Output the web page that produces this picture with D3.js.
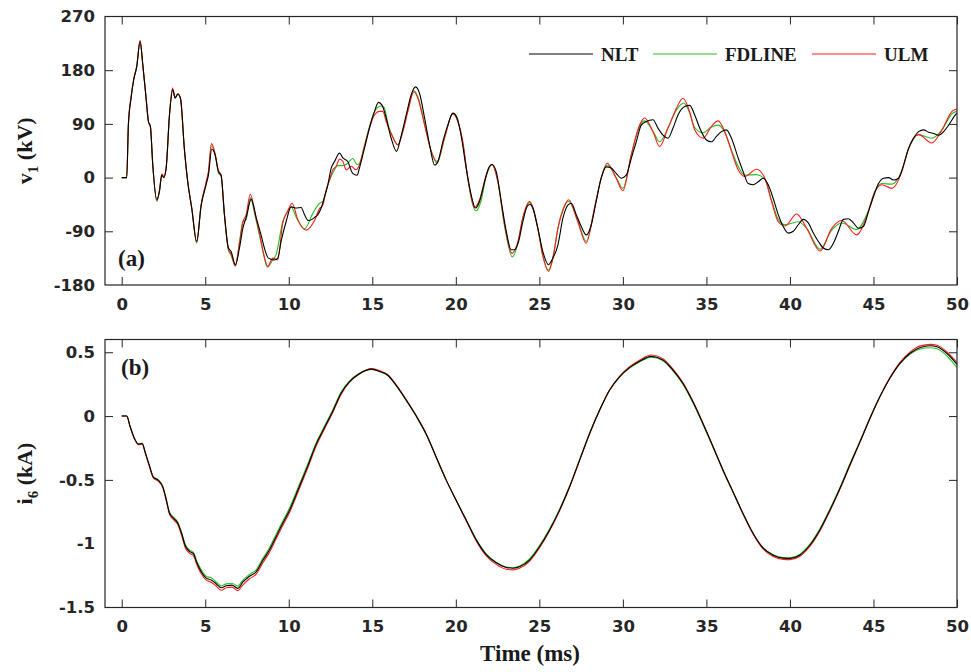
<!DOCTYPE html>
<html>
<head>
<meta charset="utf-8">
<script src="https://cdn.jsdelivr.net/npm/d3@7"></script>
<style>
  body { margin: 0; background: #fff; }
  .tick text { font-family: "DejaVu Sans", Arial, sans-serif; font-weight: bold; font-size: 16.5px; fill: #262626; }
  .tick line { stroke: #262626; }
  .serif { font-family: "Liberation Serif", "Times New Roman", serif; font-weight: bold; fill: #1a1a1a; }
</style>
</head>
<body>
<svg id="chart" width="971" height="672"></svg>
<script>
// tick labels
const timeTicks = [0, 5, 10, 15, 20, 25, 30, 35, 40, 45, 50];
const v1Ticks = [-180, -90, 0, 90, 180, 270];
const i6Ticks = [-1.5, -1, -0.5, 0, 0.5];
const seriesNames = ["NLT", "FDLINE", "ULM"];

// (a) v1 in kV, [time ms, value]
const v1NLT = [[0,0],[0.3,0],[0.4,88],[0.56,133],[0.72,164],[0.9,186],[1.1,228],[1.26,190],[1.46,133],[1.6,94],[1.72,85],[1.86,21],[2.1,-37],[2.26,-23],[2.4,4],[2.52,0],[2.66,16],[2.86,105],[3.06,147],[3.2,133],[3.36,140],[3.52,133],[3.75,49],[3.95,-7],[4.19,-51],[4.49,-107],[4.75,-48],[5.05,-12],[5.19,4],[5.39,48],[5.59,38],[5.79,10],[5.95,4],[6.15,-62],[6.39,-118],[6.55,-124],[6.81,-146],[7.05,-118],[7.25,-85],[7.45,-67],[7.75,-36],[8.05,-67],[8.34,-96],[8.54,-118],[8.78,-135],[9.14,-138],[9.34,-135],[9.54,-107],[9.84,-74],[10.14,-49],[10.44,-51],[10.74,-50],[10.94,-62],[11.18,-72],[11.54,-67],[11.74,-62],[11.94,-51],[12.14,-32],[12.34,-12],[12.54,16],[12.74,27],[13.04,41],[13.24,33],[13.53,27],[13.83,7],[14.09,4],[14.23,16],[14.53,49],[14.83,83],[15.13,111],[15.37,126],[15.59,121],[15.83,100],[16.13,66],[16.45,44],[16.73,70],[17.03,105],[17.33,139],[17.59,152],[17.83,141],[18.13,100],[18.43,55],[18.73,21],[18.93,27],[19.22,60],[19.52,88],[19.82,108],[20.08,100],[20.32,70],[20.62,16],[20.92,-29],[21.18,-51],[21.42,-40],[21.72,-7],[21.96,16],[22.16,22],[22.42,10],[22.72,-40],[23.02,-90],[23.31,-121],[23.51,-121],[23.76,-107],[24.01,-74],[24.3,-47],[24.45,-45],[24.61,-51],[24.91,-85],[25.21,-124],[25.55,-146],[25.81,-135],[26.11,-113],[26.41,-68],[26.71,-46],[26.91,-43],[27.21,-62],[27.51,-82],[27.81,-96],[28.11,-79],[28.4,-40],[28.7,-1],[29.0,18],[29.3,16],[29.6,7],[29.9,-1],[30.2,4],[30.5,32],[30.8,60],[31.1,88],[31.4,94],[31.8,97],[32.1,83],[32.4,71],[32.7,66],[33.0,83],[33.3,105],[33.7,119],[34.0,121],[34.3,105],[34.6,83],[35.0,63],[35.3,60],[35.6,69],[35.9,77],[36.2,80],[36.5,66],[36.9,33],[37.2,10],[37.5,-10],[37.8,-12],[38.1,-7],[38.4,-1],[38.7,-12],[39.0,-35],[39.3,-62],[39.6,-82],[39.9,-93],[40.2,-90],[40.5,-79],[40.8,-70],[41.1,-76],[41.4,-93],[41.7,-107],[42.0,-118],[42.3,-121],[42.6,-110],[42.9,-90],[43.2,-70],[43.5,-69],[43.8,-76],[44.1,-85],[44.4,-82],[44.7,-57],[45.0,-32],[45.3,-10],[45.6,-1],[45.9,0],[46.2,-4],[46.5,-1],[46.8,21],[47.1,49],[47.4,66],[47.7,77],[48.0,80],[48.3,76],[48.6,74],[48.9,71],[49.2,77],[49.5,88],[49.9,105],[50,108]];

const v1FD = [[0,0],[0.3,0],[0.4,89],[0.56,134],[0.72,165],[0.9,186],[1.1,229],[1.26,190],[1.46,133],[1.6,94],[1.72,85],[1.86,21],[2.1,-40],[2.26,-22],[2.4,5],[2.52,1],[2.66,16],[2.86,105],[3.04,148],[3.2,134],[3.36,140],[3.52,132],[3.75,48],[3.95,-7],[4.19,-51],[4.49,-110],[4.75,-47],[5.05,-10],[5.19,8],[5.37,53],[5.59,39],[5.79,8],[5.95,2],[6.15,-64],[6.39,-122],[6.55,-130],[6.8,-148],[7.05,-108],[7.25,-74],[7.45,-70],[7.7,-34],[8.0,-66],[8.3,-104],[8.5,-130],[8.72,-150],[9.04,-138],[9.24,-129],[9.64,-74],[9.94,-56],[10.14,-49],[10.44,-66],[10.94,-86],[11.44,-60],[11.84,-43],[12.04,-40],[12.34,-12],[12.64,8],[12.94,20],[13.24,20],[13.53,24],[13.83,32],[14.09,22],[14.23,24],[14.53,54],[14.83,86],[15.13,110],[15.5,120],[15.7,118],[15.98,85],[16.23,68],[16.53,55],[16.83,80],[17.13,113],[17.49,146],[17.73,135],[18.13,90],[18.53,44],[18.88,24],[19.32,66],[19.82,107],[20.12,94],[20.42,58],[20.72,-3],[21.2,-56],[21.5,-40],[21.82,2],[22.16,22],[22.52,-8],[22.92,-82],[23.38,-133],[23.72,-110],[24.01,-68],[24.41,-42],[24.91,-85],[25.2,-130],[25.55,-155],[25.85,-128],[26.11,-85],[26.45,-50],[26.75,-40],[27.3,-72],[27.8,-107],[28.3,-52],[28.7,-1],[29.06,21],[29.6,0],[30.0,-18],[30.5,38],[31.0,86],[31.3,95],[31.8,78],[32.2,60],[32.7,83],[33.2,113],[33.65,125],[34.0,108],[34.3,84],[34.8,75],[35.3,85],[35.7,88],[36.1,76],[36.5,46],[36.9,19],[37.3,4],[38.0,5],[38.5,-3],[38.9,-38],[39.3,-70],[39.7,-79],[40.5,-74],[41.0,-85],[41.8,-120],[42.5,-88],[43.1,-76],[44.0,-87],[44.6,-62],[45.1,-22],[45.5,-10],[46.1,-11],[46.7,12],[47.1,48],[47.7,72],[48.5,66],[49.1,80],[49.7,107],[50,111]];

const v1ULM = [[0,0],[0.3,0],[0.4,90],[0.56,135],[0.72,165],[0.9,187],[1.1,230],[1.26,190],[1.46,133],[1.6,94],[1.72,85],[1.86,21],[2.1,-38],[2.26,-21],[2.4,6],[2.52,2],[2.66,16],[2.86,106],[3.04,150],[3.2,134],[3.36,140],[3.52,132],[3.75,48],[3.95,-6],[4.19,-50],[4.49,-108],[4.75,-46],[5.05,-8],[5.19,10],[5.37,57],[5.59,40],[5.79,12],[5.95,4],[6.15,-62],[6.39,-120],[6.55,-128],[6.8,-148],[7.05,-110],[7.25,-75],[7.45,-62],[7.7,-28],[8.0,-62],[8.3,-100],[8.5,-128],[8.74,-149],[9.04,-135],[9.34,-138],[9.64,-76],[9.94,-56],[10.2,-43],[10.54,-70],[11.04,-88],[11.54,-72],[11.84,-52],[12.04,-46],[12.24,-21],[12.44,-4],[12.64,13],[12.84,19],[13.04,31],[13.24,27],[13.44,13],[13.74,19],[14.03,13],[14.23,21],[14.53,52],[14.83,83],[15.13,105],[15.43,111],[15.63,111],[15.83,94],[16.13,74],[16.53,55],[16.83,77],[17.13,111],[17.49,144],[17.73,133],[18.13,88],[18.53,44],[18.88,27],[19.32,66],[19.82,107],[20.12,94],[20.42,60],[20.72,-1],[21.12,-50],[21.42,-37],[21.82,4],[22.16,22],[22.52,-7],[22.92,-79],[23.36,-127],[23.72,-107],[24.01,-67],[24.41,-40],[24.91,-85],[25.2,-130],[25.55,-157],[25.85,-130],[26.11,-85],[26.45,-52],[26.75,-37],[27.3,-74],[27.8,-110],[28.3,-51],[28.7,-1],[29.06,24],[29.6,-1],[30.0,-22],[30.5,38],[31.0,88],[31.3,100],[31.8,77],[32.2,52],[32.7,83],[33.2,116],[33.6,133],[34.0,110],[34.3,80],[34.8,66],[35.3,86],[35.7,95],[36.1,77],[36.5,44],[36.9,13],[37.3,2],[38.0,14],[38.5,-1],[38.9,-40],[39.3,-74],[39.7,-81],[40.4,-61],[41.0,-85],[41.8,-123],[42.5,-85],[43.1,-72],[44.0,-96],[44.6,-65],[45.1,-23],[45.5,-12],[46.1,-18],[46.7,10],[47.1,49],[47.7,72],[48.5,58],[49.1,80],[49.7,111],[50,115]];

// (b) i6 in kA, shared time axis
const iT = [0,0.3,0.5,0.76,1.0,1.22,1.42,1.66,1.9,2.16,
  2.46,2.66,2.86,3.1,3.36,3.56,3.82,4.06,4.3,4.5,
  4.76,5.06,5.36,5.62,5.96,6.26,6.6,6.95,7.26,7.65,
  8.05,8.45,8.84,9.24,9.64,10.04,10.64,11.14,11.64,12.14,
  12.64,13.14,13.64,14.2,14.97,15.43,15.93,16.43,17.03,17.63,
  18.22,18.82,19.42,20.02,20.62,21.22,21.82,22.42,23.01,23.41,
  23.81,24.41,25.01,25.61,26.21,26.81,27.41,28.01,28.61,29.21,
  29.8,30.4,31.0,31.7,32.4,33.0,33.6,34.2,34.8,35.4,
  36.0,36.6,37.2,37.8,38.4,39.0,39.6,40.0,40.6,41.2,
  41.8,42.4,43.0,43.6,44.2,44.8,45.4,46.0,46.6,47.2,
  47.8,48.4,48.8,49.4,50];

const i6NLT = [0,0,-0.08,-0.175,-0.22,-0.215,-0.29,-0.39,-0.48,-0.5,
  -0.555,-0.65,-0.76,-0.8,-0.84,-0.91,-1.02,-1.06,-1.08,-1.15,
  -1.22,-1.27,-1.285,-1.31,-1.345,-1.33,-1.325,-1.35,-1.3,-1.255,
  -1.22,-1.13,-1.05,-0.945,-0.84,-0.74,-0.55,-0.39,-0.22,-0.09,
  0.04,0.18,0.27,0.33,0.368,0.35,0.32,0.24,0.125,0.0,
  -0.14,-0.32,-0.5,-0.66,-0.815,-0.97,-1.085,-1.15,-1.186,-1.192,
  -1.18,-1.128,-1.024,-0.893,-0.737,-0.554,-0.345,-0.136,0.047,0.204,
  0.308,0.38,0.43,0.468,0.44,0.36,0.255,0.11,-0.06,-0.24,
  -0.425,-0.595,-0.765,-0.92,-1.035,-1.09,-1.113,-1.115,-1.088,-1.01,
  -0.89,-0.735,-0.565,-0.38,-0.2,-0.015,0.155,0.3,0.415,0.492,
  0.538,0.551,0.543,0.49,0.405];

const i6FD = [0,0,-0.08,-0.172,-0.218,-0.212,-0.287,-0.385,-0.476,-0.497,
  -0.55,-0.645,-0.752,-0.792,-0.832,-0.9,-1.01,-1.05,-1.07,-1.14,
  -1.205,-1.255,-1.268,-1.295,-1.33,-1.315,-1.31,-1.332,-1.285,-1.24,
  -1.205,-1.115,-1.033,-0.928,-0.823,-0.722,-0.533,-0.375,-0.21,-0.08,
  0.05,0.19,0.275,0.333,0.366,0.35,0.318,0.238,0.122,-0.002,
  -0.142,-0.322,-0.5,-0.658,-0.812,-0.965,-1.08,-1.145,-1.182,-1.188,
  -1.175,-1.12,-1.015,-0.885,-0.73,-0.548,-0.34,-0.132,0.05,0.205,
  0.306,0.376,0.424,0.462,0.434,0.354,0.248,0.102,-0.068,-0.248,
  -0.432,-0.6,-0.768,-0.92,-1.032,-1.086,-1.108,-1.11,-1.082,-1.003,
  -0.882,-0.727,-0.557,-0.372,-0.193,-0.01,0.158,0.3,0.412,0.485,
  0.525,0.535,0.527,0.47,0.38];

const i6ULM = [0,0,-0.082,-0.178,-0.224,-0.22,-0.295,-0.395,-0.486,-0.507,
  -0.563,-0.66,-0.77,-0.812,-0.852,-0.925,-1.035,-1.075,-1.095,-1.165,
  -1.235,-1.285,-1.302,-1.328,-1.365,-1.345,-1.34,-1.368,-1.322,-1.275,
  -1.238,-1.15,-1.068,-0.962,-0.857,-0.757,-0.567,-0.405,-0.235,-0.1,
  0.03,0.172,0.265,0.328,0.372,0.356,0.324,0.245,0.13,0.004,
  -0.136,-0.318,-0.5,-0.662,-0.82,-0.978,-1.095,-1.162,-1.2,-1.205,
  -1.192,-1.138,-1.032,-0.9,-0.742,-0.558,-0.348,-0.138,0.046,0.206,
  0.312,0.387,0.438,0.478,0.45,0.368,0.26,0.114,-0.058,-0.24,
  -0.426,-0.598,-0.77,-0.926,-1.043,-1.1,-1.123,-1.125,-1.098,-1.02,
  -0.898,-0.742,-0.57,-0.385,-0.202,-0.015,0.158,0.305,0.422,0.502,
  0.55,0.562,0.555,0.503,0.42];

const colors = { NLT: "#000000", FDLINE: "#22c022", ULM: "#ff1a1a" };

const svg = d3.select("#chart");
const left = 105, right = 957;

// shared x scale for both panels
let x = d3.scaleLinear().domain([-1, 50]).range([left, right]);

function makePanel(id, top, bottom, yDomain, yTicks, series, label, yTitle, sub, yUnit) {
    let y = d3.scaleLinear().domain(yDomain).range([bottom, top]);
    let g = svg.append("g").attr("id", id);

    g.append("clipPath").attr("id", id + "-clip")
      .append("rect")
        .attr("x", left).attr("y", top)
        .attr("width", right - left).attr("height", bottom - top);

    let line = d3.line()
        .curve(d3.curveMonotoneX)
        .x(d => x(d[0]))
        .y(d => y(d[1]));

    // draw FDLINE and ULM first, NLT on top
    let order = ["FDLINE", "ULM", "NLT"];
    g.append("g").attr("clip-path", `url(#${id}-clip)`)
      .selectAll("path")
      .data(order)
      .join("path")
        .attr("fill", "none")
        .attr("stroke", d => colors[d])
        .attr("stroke-width", 1.1)
        .attr("d", d => line(series[d]));

    // bottom + left axes with labels, top + right with bare ticks
    let fmt = d => String(d);   // plain hyphen, as in the original
    g.append("g")
        .attr("transform", `translate(0,${bottom})`)
        .call(d3.axisBottom(x).tickValues(timeTicks).tickSizeInner(-8).tickSizeOuter(0).tickPadding(13).tickFormat(fmt))
        .call(a => a.select(".domain").remove());
    g.append("g")
        .attr("transform", `translate(0,${top})`)
        .call(d3.axisTop(x).tickValues(timeTicks).tickSizeInner(-8).tickSizeOuter(0).tickFormat(""))
        .call(a => a.select(".domain").remove());
    g.append("g")
        .attr("transform", `translate(${left},0)`)
        .call(d3.axisLeft(y).tickValues(yTicks).tickSizeInner(-8).tickSizeOuter(0).tickPadding(10).tickFormat(fmt))
        .call(a => a.select(".domain").remove());
    g.append("g")
        .attr("transform", `translate(${right},0)`)
        .call(d3.axisRight(y).tickValues(yTicks).tickSizeInner(-8).tickSizeOuter(0).tickFormat(""))
        .call(a => a.select(".domain").remove());

    // tick marks sitting on the box edge are not drawn
    g.selectAll(".tick").filter(d => d === yDomain[0] || d === yDomain[1] || d === -1)
        .select("line").remove();

    g.append("rect")
        .attr("x", left).attr("y", top)
        .attr("width", right - left).attr("height", bottom - top)
        .attr("fill", "none")
        .attr("stroke", "#262626")
        .attr("stroke-width", 1.2);

    // panel tag
    g.append("text")
        .attr("class", "serif")
        .attr("x", label.x).attr("y", label.y)
        .attr("font-size", 23)
        .text(label.text);

    // y title with subscript
    let cy = (top + bottom) / 2;
    let t = g.append("text")
        .attr("class", "serif")
        .attr("transform", `translate(32,${cy}) rotate(-90)`)
        .attr("text-anchor", "middle")
        .attr("font-size", 22);
    t.append("tspan").text(yTitle);
    t.append("tspan").attr("dy", 6).attr("font-size", 15).text(sub);
    t.append("tspan").attr("dy", -6).text(" " + yUnit);

    return y;
}

makePanel("pa", 16.5, 285, [-180, 270], v1Ticks,
    { NLT: v1NLT, FDLINE: v1FD, ULM: v1ULM },
    { x: 118, y: 266, text: "(a)" }, "v", "1", "(kV)");

const zipI = arr => iT.map((t, k) => [t, arr[k]]);
makePanel("pb", 339.5, 607.5, [-1.5, 0.6], i6Ticks,
    { NLT: zipI(i6NLT), FDLINE: zipI(i6FD), ULM: zipI(i6ULM) },
    { x: 121, y: 375, text: "(b)" }, "i", "6", "(kA)");

// x title
svg.append("text")
    .attr("class", "serif")
    .attr("x", 530).attr("y", 661)
    .attr("text-anchor", "middle")
    .attr("font-size", 23)
    .text("Time (ms)");

// legend
const legendX = [529, 653, 812];
let legend = svg.append("g").selectAll("g")
    .data(seriesNames)
    .join("g")
      .attr("transform", (d, i) => `translate(${legendX[i]},54)`);
legend.append("line")
    .attr("x1", 0).attr("x2", 64)
    .attr("stroke", d => colors[d])
    .attr("stroke-width", 1.1);
legend.append("text")
    .attr("class", "serif")
    .attr("x", 72).attr("y", 6.5)
    .attr("font-size", 19)
    .text(d => d);
</script>
</body>
</html>
